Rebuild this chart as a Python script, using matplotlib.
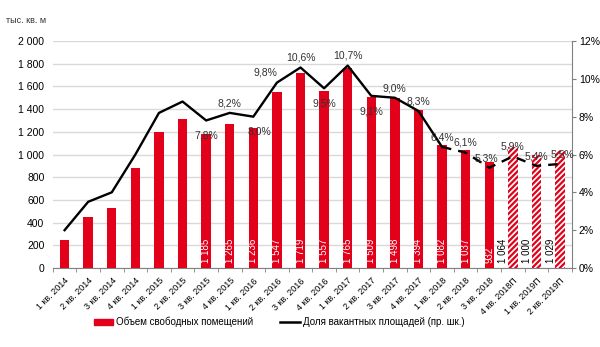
import matplotlib
matplotlib.use("Agg")
import matplotlib.pyplot as plt
import numpy as np

plt.rcParams['font.family'] = ['Liberation Sans', 'DejaVu Sans']
plt.rcParams['hatch.linewidth'] = 1.6

categories = ["1 кв. 2014", "2 кв. 2014", "3 кв. 2014", "4 кв. 2014",
              "1 кв. 2015", "2 кв. 2015", "3 кв. 2015", "4 кв. 2015",
              "1 кв. 2016", "2 кв. 2016", "3 кв. 2016", "4 кв. 2016",
              "1 кв. 2017", "2 кв. 2017", "3 кв. 2017", "4 кв. 2017",
              "1 кв. 2018", "2 кв. 2018", "3 кв. 2018", "4 кв. 2018П",
              "1 кв. 2019П", "2 кв. 2019П"]
volume = [247, 447, 531, 884, 1195, 1310, 1185, 1265, 1236, 1547, 1719, 1557,
          1765, 1509, 1498, 1394, 1082, 1037, 932, 1064, 1000, 1029]
volume_labeled = [False] * 6 + [True] * 16
forecast = [False] * 19 + [True] * 3
vacancy = [2.0, 3.5, 4.0, 6.0, 8.2, 8.8, 7.8, 8.2, 8.0, 9.8, 10.6, 9.5,
           10.7, 9.1, 9.0, 8.3, 6.4, 6.1, 5.3, 5.9, 5.4, 5.5]
vacancy_labeled = [False] * 6 + [True] * 16
# label offsets (points) for percentage labels
pct_offsets = {6: (0, -11), 7: (0, 7), 8: (4, -11), 9: (-8, 7), 10: (0, 7),
               11: (0, -11), 12: (0, 7), 13: (0, -11), 14: (0, 7), 15: (0, 7),
               16: (0, 7), 17: (0, 7), 18: (-2, 7), 19: (0, 7), 20: (0, 7), 21: (2, 7)}

RED = '#E2001A'

fig = plt.figure(figsize=(6.0, 3.47), dpi=100)
ax = fig.add_axes([0.088, 0.2277, 0.865, 0.6541])
ax2 = ax.twinx()

x = np.arange(len(categories))
for i, v in enumerate(volume):
    if forecast[i]:
        ax.bar(x[i], v, width=0.4, facecolor='white', edgecolor=RED,
               hatch='//////', linewidth=0, zorder=3)
    else:
        ax.bar(x[i], v, width=0.4, color=RED, zorder=3)
    if volume_labeled[i]:
        s = f"{v:,}".replace(",", " ")
        if forecast[i]:
            ax.text(x[i] - 0.4, 40, s, rotation=90, ha='center', va='bottom',
                    fontsize=7, color='black', zorder=5)
        else:
            ax.text(x[i], 40, s, rotation=90, ha='center', va='bottom',
                    fontsize=7, color='white', zorder=5)

ax.set_ylim(0, 2000)
ax.set_yticks(np.arange(0, 2001, 200))
ax.set_yticklabels([f"{v:,}".replace(",", " ") for v in range(0, 2001, 200)], fontsize=7.5)
ax.grid(axis='y', color='#D9D9D9', linewidth=1, zorder=0)
ax.set_axisbelow(True)
ax.set_xlim(-0.5, len(categories) - 0.5)
ax.set_xticks(x)
ax.set_xticklabels(categories, rotation=45, ha='right', rotation_mode='anchor', fontsize=6.5)
ax.tick_params(axis='x', length=0, pad=6)
ax.set_xticks(np.arange(-0.5, len(categories)), minor=True)
ax.tick_params(axis='x', which='minor', length=3, color='#808080')
ax.tick_params(axis='y', length=0, pad=6)
for s in ['top', 'left', 'right']:
    ax.spines[s].set_visible(False)
ax.spines['bottom'].set_color('#808080')

# line: solid until 1 кв. 2018, dashed after
split = 16
ax2.plot(x[:split + 1], vacancy[:split + 1], color='black', linewidth=1.7, zorder=4)
ax2.plot(x[split:], vacancy[split:], color='black', linewidth=1.7, linestyle=(0, (4, 3)), zorder=4)
ax2.set_ylim(0, 12)
ax2.set_yticks(np.arange(0, 13, 2))
ax2.set_yticklabels([f"{v}%" for v in range(0, 13, 2)], fontsize=7.5)
ax2.tick_params(axis='y', length=3, color='#808080', pad=2)
for s in ['top', 'left', 'bottom']:
    ax2.spines[s].set_visible(False)
ax2.spines['right'].set_color('#808080')

for i, v in enumerate(vacancy):
    if vacancy_labeled[i]:
        dx, dy = pct_offsets[i]
        ax2.annotate(f"{v:.1f}%".replace(".", ","), (x[i], v), xytext=(dx, dy),
                     textcoords='offset points', ha='center', va='center',
                     fontsize=7.5, color='#333333', zorder=6)

fig.text(0.01, 0.935, "тыс. кв. м", fontsize=6.5, color='#333333')

from matplotlib.patches import Patch
from matplotlib.lines import Line2D
handles = [Patch(facecolor=RED, edgecolor=RED),
           Line2D([0], [0], color='black', linewidth=1.8)]
fig.legend(handles, ["Объем свободных помещений", "Доля вакантных площадей (пр. шк.)"],
           loc='center', bbox_to_anchor=(0.465, 0.072), ncol=2, frameon=False,
           fontsize=7, handlelength=2.0, handleheight=0.6, handletextpad=0.3,
           columnspacing=2.8)

fig.savefig("out.png", dpi=100)
